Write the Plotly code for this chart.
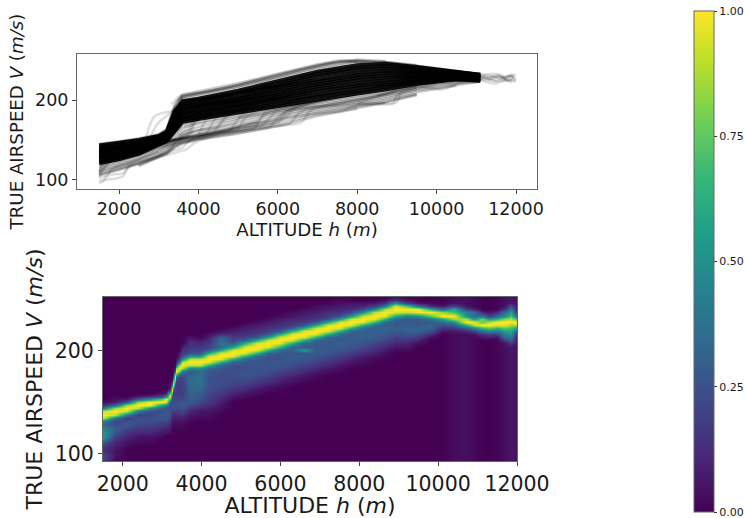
import plotly.graph_objects as go

W, H = 746, 518
PAGE = 0
FW, FH = W - PAGE, H - PAGE
FONT = "DejaVu Sans"
TXT = "#1a1a1a"
N = None

# ---------- top panel: speed profiles ----------
CORE_ALT = [1500, 2000, 2500, 3000, 3200, 3400, 3600, 4000, 5000, 6000, 7000, 8000, 8700, 9500, 10500, 11100]
CORE_V = [
    [143, 146, 150, 155, 160, 186, 199, 202, 212, 224, 236, 244, 246, 242, 236, 232],
    [141, 144, 148, 154, 159, 184, 197, 200, 209, 221, 233, 241, 243, 240, 235, 232],
    [139, 142, 147, 153, 158, 181, 194, 198, 207, 218, 230, 238, 240, 238, 234, 231],
    [137, 140, 145, 152, 157, 179, 192, 195, 204, 216, 226, 234, 237, 236, 233, 230],
    [135, 139, 144, 151, 155, 176, 189, 193, 202, 213, 223, 231, 234, 234, 232, 230],
    [133, 137, 142, 150, 154, 174, 187, 191, 199, 210, 220, 228, 231, 232, 231, 229],
    [131, 135, 140, 149, 153, 171, 184, 188, 197, 207, 217, 225, 228, 230, 230, 228],
    [129, 133, 139, 148, 152, 168, 182, 186, 194, 204, 214, 221, 225, 228, 229, 228],
    [127, 131, 137, 147, 151, 166, 179, 183, 192, 202, 211, 218, 222, 226, 228, 227],
    [125, 129, 136, 146, 150, 163, 177, 181, 189, 199, 207, 215, 219, 224, 227, 226],
    [122, 127, 134, 145, 149, 162, 175, 178, 187, 196, 204, 211, 216, 222, 226, 225],
    [120, 125, 132, 143, 148, 160, 172, 176, 184, 193, 201, 208, 213, 220, 226, 224],
]
FRINGE_V = [
    [145, 148, 152, 157, 162, 190, 202, 205, 215, 227, 239, 247, 248, 243, 237, 232],
    [144, 147, 151, 156, 163, 192, 204, 207, 217, 229, 241, 249, 248, 243, 236, 232],
    [N, N, N, 156, 162, 188, 206, 209, 219, 231, 243, 250, 248, 244, N, N],
    [N, N, N, 156, 164, 194, 207, 211, 221, 233, 245, 251, 249, N, N, N],
    [118, 123, 130, 141, 146, 156, 168, 172, 181, 190, 198, 205, 210, 217, 224, 224],
    [116, 121, 128, 139, 144, 152, 165, 170, 179, 188, 196, 203, 208, 216, 222, 224],
    [114, 119, 126, 137, 143, 149, 160, 166, 177, 186, 194, 201, 206, 214, 221, 223],
    [112, 117, 125, 135, 141, 147, 155, 162, 175, 184, 192, 199, 204, 212, 219, 223],
    [110, 116, 123, 133, 139, 146, 152, 158, 172, 182, 190, 197, 202, 210, 218, N],
    [108, 114, 121, 131, 137, 145, 150, 155, 168, 180, 188, 195, 200, 208, N, N],
    [106, 113, 120, 130, 135, 144, 148, 153, 165, 177, 186, 193, 198, 207, N, N],
    [105, 112, 119, 129, 134, 142, 147, 152, 162, 174, 184, 192, 197, 206, N, N],
    [N, N, 118, 128, 133, 141, 146, 151, 160, 170, 182, 190, 196, N, N, N],
    [N, N, 117, 127, 132, 140, 145, 150, 158, 167, 180, 189, N, N, N, N],
]

STRAY_ALT = [
    [3500, 4000, 5000, 6000, 7000, 7500, 8000],
    [3400, 3800, 5000, 6000, 7000, 7700, 8500],
    [3300, 3700, 4500, 5500, 6500, 7500, 8300],
    [3450, 3900, 4800, 5800, 6800, 7600, 8200],
    [1500, 2500, 3000, 3500, 3700, 3900, 4100, 5000, 6000, 7000, 8000, 9000],
    [1500, 2500, 3000, 3500, 4000, 4200, 4400, 4600, 5000, 6000, 7000, 8000, 9000],
    [1500, 2500, 3000, 3500, 4000, 4500, 4800, 5000, 5200, 6000, 7000, 8000, 9000],
    [1500, 2500, 3000, 3500, 4000, 5000, 5400, 5600, 5800, 6500, 7500, 8500, 9500],
    [1500, 2500, 3000, 3500, 4000, 5000, 5800, 6000, 6200, 7000, 8000, 9000, 10000],
    [1500, 2500, 3000, 3500, 4000, 5000, 6000, 6300, 6500, 6700, 7500, 8500, 9500],
    [2000, 3000, 3500, 4000, 5000, 6000, 6600, 6800, 7000, 8000, 9000],
    [3000, 4000, 5000, 6000, 7000, 7600, 7900, 8100, 8500, 8900, 9000, 9500],
    [5000, 6000, 7000, 7500, 8000, 8500, 9000, 9100, 9500],
    [1500, 1700, 1900, 2100, 2250, 2400, 2600, 3000, 3400, 3600, 3800, 4500, 5500],
    [1500, 1800, 2100, 2300, 2500, 3000, 3500, 3700, 3900, 4500],
    [1500, 1600, 1800, 2000, 2200, 2400, 3000],
    [1500, 1550, 1650, 1800],
    [1500, 1550, 1700, 1900],
    [1500, 1600, 1750, 2000],
    [1500, 1650, 1800, 2100],
    [2300, 2600, 2750, 2900, 3050, 3300, 3800, 4500],
    [2400, 2700, 2850, 3000, 3200, 3500, 4000],
    [3000, 3500, 3600, 3750, 3900, 4100, 5000, 6000],
    [3000, 3400, 3600, 3800, 3950, 4300, 5000, 6000],
    [3000, 3500, 4000, 4150, 4300, 4500, 5200, 6200],
    [3500, 4000, 4500, 4700, 4900, 5100, 6000],
    [3500, 4000, 5000, 5500, 5700, 5900, 6800],
    [4000, 5000, 5300, 6000, 6200, 6400, 7200],
    [4500, 5000, 5500, 6000, 6200, 6400, 6600, 7500],
    [3000, 3500, 3700, 3850, 4000, 4200, 5000],
    [3000, 3600, 3800, 3900, 4100, 4600, 5500],
    [3200, 4000, 4400, 4550, 4700, 5000, 6000],
    [3500, 4500, 5000, 5150, 5300, 5500, 6500],
    [4000, 5000, 5600, 5800, 5950, 6200, 7000],
    [4500, 5500, 6000, 6150, 6300, 6500, 7300],
    [8000, 8500, 9000, 9500, 10000, 10200, 10400, 10600, 10800],
    [8500, 9000, 9500, 10000, 10400, 10500, 11000],
    [9500, 10000, 10500, 11000, 11300, 11600, 11850, 12000],
    [9500, 10000, 10500, 11000, 11400, 11700, 11900, 11950],
    [10000, 10500, 11000, 11200, 11500, 11800, 12000],
    [10000, 10500, 11000, 11300, 11600, 11800, 11950],
    [10500, 11000, 11300, 11600, 11900],
    [10500, 11000, 11400, 11700, 12000],
    [10500, 11000, 11300, 11500, 11800, 12000],
    [10500, 11000, 11200, 11500, 11700, 11900],
]
STRAY_V = [
    [205, 209, 219, 232, 244, 250, 248],
    [200, 206, 217, 229, 242, 250, 247],
    [195, 205, 213, 226, 238, 248, 248],
    [203, 208, 216, 228, 241, 249, 247],
    [126, 134, 143, 150, 153, 172, 180, 188, 198, 205, 212, 222],
    [128, 136, 146, 150, 155, 158, 175, 182, 186, 196, 204, 212, 220],
    [124, 132, 141, 147, 153, 159, 162, 176, 184, 194, 203, 211, 219],
    [130, 138, 145, 151, 155, 161, 164, 178, 185, 193, 202, 210, 219],
    [122, 131, 139, 146, 151, 158, 166, 178, 186, 192, 200, 209, 220],
    [127, 136, 144, 150, 154, 160, 168, 170, 182, 188, 196, 205, 216],
    [128, 143, 149, 154, 161, 167, 172, 186, 190, 199, 212],
    [148, 154, 165, 176, 183, 186, 192, 195, 195, 195, 206, 214],
    [178, 186, 192, 193, 195, 196, 197, 210, 216],
    [98, 100, 101, 104, 118, 122, 124, 130, 137, 140, 150, 160, 172],
    [102, 106, 108, 118, 121, 128, 135, 138, 146, 158],
    [95, 98, 112, 118, 120, 124, 135],
    [106, 114, 122, 128],
    [110, 116, 124, 130],
    [103, 112, 122, 130],
    [108, 116, 124, 132],
    [134, 138, 165, 180, 183, 186, 192, 200],
    [136, 138, 160, 172, 180, 190, 198],
    [148, 152, 158, 175, 184, 186, 196, 208],
    [146, 150, 154, 170, 182, 187, 195, 206],
    [146, 152, 158, 172, 181, 186, 194, 204],
    [156, 162, 166, 178, 184, 186, 197],
    [154, 162, 170, 174, 186, 188, 199],
    [158, 167, 170, 175, 186, 190, 201],
    [158, 162, 167, 172, 178, 189, 192, 203],
    [146, 150, 156, 170, 178, 183, 192],
    [145, 152, 156, 170, 178, 184, 195],
    [148, 156, 160, 172, 180, 184, 197],
    [152, 160, 164, 176, 182, 186, 199],
    [156, 165, 168, 178, 186, 190, 199],
    [160, 168, 172, 180, 188, 192, 203],
    [196, 204, 212, 217, 214, 214, 218, 222, 224],
    [206, 212, 218, 222, 222, 226, 228],
    [236, 234, 230, 226, 225, 224, 225, 223],
    [234, 232, 229, 232, 230, 226, 232, 228],
    [230, 228, 224, 230, 224, 231, 226],
    [231, 227, 231, 227, 232, 224, 230],
    [233, 232, 226, 229, 222],
    [226, 225, 230, 229, 232],
    [228, 227, 222, 221, 226, 225],
    [230, 230, 232, 233, 228, 231],
]

# ---------- bottom panel: normalised density, one column per altitude ----------
HEAT_ALT = [1500, 1800, 2100, 2400, 2700, 3000, 3100, 3200, 3240, 3280, 3320, 3360, 3420, 3500, 3700, 3950,
            4200, 4500, 4800, 5100, 5400, 5700, 6000, 6300, 6600, 6900, 7200, 7500, 7800, 8100, 8400, 8650,
            8900, 9200, 9500, 9800, 10100, 10400, 10700, 10900, 11100, 11300, 11500, 11700, 11850, 12000]
HEAT_START = [93, 96, 108, 111, 111, 117, 120, 120, 123, 123, 123, 123, 123, 123, 132, 135,
              135, 141, 153, 156, 159, 162, 165, 168, 171, 174, 177, 180, 183, 186, 189, 192,
              201, 201, 207, 213, 219, 219, 219, 216, 213, 213, 213, 207, 204, 216]
HEAT_FLOOR = [0, 0, 0, 0, 0, 0, 0, 0, 0, 0, 0, 0, 0, 0, 0, 0,
              0, 0, 0, 0, 0, 0, 0, 0, 0, 0, 0, 0, 0, 0, 0, 0,
              0, 0, 0, 0, 0, 3, 4, 2, 0, 0, 1, 4, 6, 4]
HEAT_VALUES = [
    [14, 22, 22, 16, 14, 18, 30, 45, 55, 52, 48, 42, 34, 45, 92, 100, 92, 40, 12, 5],
    [4, 5, 5, 6, 8, 10, 14, 20, 26, 30, 28, 22, 20, 38, 90, 100, 85, 30, 8, 4],
    [3, 5, 8, 10, 14, 18, 24, 28, 24, 16, 40, 92, 100, 85, 28, 6],
    [2, 4, 6, 10, 14, 18, 22, 26, 24, 18, 42, 92, 100, 85, 28, 6],
    [2, 4, 6, 10, 14, 18, 20, 24, 24, 20, 24, 50, 100, 100, 50, 10],
    [3, 6, 9, 13, 18, 22, 26, 28, 24, 28, 55, 100, 75, 18, 4],
    [4, 8, 12, 16, 22, 26, 28, 26, 24, 45, 95, 100, 38, 6],
    [3, 6, 8, 11, 16, 22, 26, 26, 24, 22, 28, 70, 100, 70, 16, 5, 3],
    [1, 2, 3, 5, 8, 12, 18, 24, 26, 24, 22, 26, 75, 100, 75, 22, 6],
    [1, 2, 3, 5, 8, 12, 18, 24, 26, 24, 22, 20, 20, 28, 75, 100, 75, 22, 6],
    [1, 2, 3, 5, 8, 12, 18, 24, 26, 24, 22, 20, 18, 18, 20, 28, 75, 100, 75, 22, 8, 3],
    [1, 2, 3, 5, 8, 12, 18, 24, 26, 24, 22, 20, 18, 18, 18, 18, 20, 30, 78, 100, 78, 26, 10, 5],
    [1, 2, 3, 5, 8, 12, 18, 24, 26, 24, 22, 20, 18, 18, 18, 18, 20, 22, 40, 85, 100, 82, 36, 14, 10, 6],
    [1, 2, 3, 5, 8, 14, 20, 26, 28, 26, 22, 20, 18, 18, 18, 18, 20, 22, 26, 48, 90, 100, 90, 48, 22, 16, 12, 8],
    [2, 4, 6, 10, 16, 24, 28, 30, 30, 30, 32, 34, 34, 36, 34, 30, 28, 50, 92, 100, 92, 52, 24, 20, 16, 14, 10, 5],
    [2, 4, 6, 10, 16, 22, 26, 28, 30, 32, 34, 36, 38, 38, 36, 34, 50, 92, 100, 92, 52, 26, 20, 16, 12, 6],
    [2, 4, 6, 8, 12, 16, 18, 20, 20, 22, 24, 24, 24, 24, 26, 26, 32, 62, 95, 100, 95, 62, 30, 20, 16, 12, 8, 4],
    [2, 4, 6, 8, 11, 14, 18, 20, 22, 24, 24, 24, 24, 26, 28, 32, 62, 96, 100, 95, 60, 34, 38, 36, 30, 12, 4],
    [3, 6, 10, 14, 18, 20, 22, 24, 24, 24, 24, 26, 30, 60, 96, 100, 94, 58, 28, 20, 16, 12, 8, 4],
    [3, 6, 10, 14, 18, 22, 24, 26, 26, 24, 26, 28, 32, 62, 95, 100, 96, 62, 30, 20, 14, 10, 8, 4],
    [3, 5, 9, 13, 17, 21, 24, 26, 26, 26, 26, 28, 34, 64, 96, 100, 95, 60, 28, 18, 14, 10, 7, 3],
    [3, 5, 9, 13, 17, 21, 24, 26, 26, 26, 26, 26, 32, 62, 95, 100, 94, 58, 28, 18, 14, 10, 7, 3],
    [2, 5, 8, 12, 16, 20, 24, 26, 28, 26, 26, 28, 34, 64, 96, 100, 95, 60, 28, 18, 14, 10, 7, 3],
    [2, 5, 8, 12, 16, 20, 24, 26, 28, 28, 26, 28, 32, 62, 95, 100, 96, 62, 30, 18, 14, 10, 6, 3],
    [2, 4, 8, 12, 16, 20, 24, 26, 28, 26, 55, 28, 32, 62, 96, 100, 95, 60, 26, 16, 12, 9, 6, 3],
    [2, 4, 7, 11, 15, 19, 23, 26, 28, 28, 28, 28, 34, 64, 96, 100, 94, 58, 26, 16, 12, 8, 5, 3],
    [2, 4, 7, 11, 15, 19, 23, 26, 28, 28, 28, 28, 32, 62, 95, 100, 95, 60, 26, 16, 12, 8, 5, 2],
    [2, 3, 6, 10, 14, 18, 22, 26, 28, 30, 28, 28, 34, 62, 95, 100, 94, 56, 24, 14, 10, 7, 4, 2],
    [1, 3, 6, 9, 13, 18, 22, 26, 28, 30, 30, 28, 32, 60, 96, 100, 94, 54, 22, 12, 8, 6],
    [1, 3, 5, 8, 12, 17, 22, 26, 28, 30, 30, 30, 34, 62, 96, 100, 92, 50, 20, 10, 6],
    [1, 2, 5, 8, 12, 16, 21, 26, 28, 30, 30, 30, 34, 64, 96, 100, 90, 46, 18, 8],
    [1, 2, 4, 7, 11, 16, 21, 25, 28, 30, 30, 30, 34, 64, 96, 100, 88, 42, 14, 5],
    [3, 6, 11, 16, 20, 24, 28, 30, 28, 28, 32, 60, 96, 100, 96, 52, 14, 5],
    [3, 6, 10, 16, 22, 26, 30, 32, 30, 28, 28, 45, 92, 100, 72, 20, 5],
    [4, 10, 18, 24, 30, 32, 28, 26, 28, 50, 98, 98, 38, 6],
    [4, 14, 24, 32, 32, 28, 36, 72, 100, 62, 14, 3],
    [6, 14, 24, 34, 55, 100, 85, 32, 6],
    [6, 16, 28, 50, 85, 100, 70, 60, 20, 5],
    [10, 30, 60, 100, 90, 50, 45, 18, 5],
    [6, 18, 45, 90, 100, 55, 35, 35, 10],
    [6, 15, 35, 65, 100, 75, 80, 40, 10],
    [8, 20, 45, 75, 100, 90, 55, 18, 5],
    [6, 20, 40, 65, 95, 100, 65, 35, 12],
    [6, 18, 35, 45, 55, 75, 95, 100, 85, 50, 35, 15, 5],
    [5, 15, 30, 40, 50, 60, 70, 85, 100, 90, 70, 55, 40, 25, 8],
    [10, 28, 55, 85, 100, 70, 35, 10],
]
V_BINS = list(range(93, 253, 3))

X_TICKS = [2000, 4000, 6000, 8000, 10000, 12000]
Y_TICKS = [100, 200]
CBAR_TICKS = [0, 0.25, 0.5, 0.75, 1]
X_TITLE = "ALTITUDE <i>h</i> (<i>m</i>)"
Y_TITLE = "TRUE AIRSPEED <i>V</i> (<i>m/s</i>)"

grid = [[HEAT_FLOOR[c] / 100 for c in range(len(HEAT_ALT))] for _ in V_BINS]
for c, (start, values) in enumerate(zip(HEAT_START, HEAT_VALUES)):
    row0 = V_BINS.index(start)
    for k, value in enumerate(values):
        if row0 + k < len(V_BINS):
            grid[row0 + k][c] = max(grid[row0 + k][c], value / 100)


def xdom(left, right):
    return [(left - PAGE) / FW, (right - PAGE) / FW]


def ydom(top, bottom):
    return [1 - (bottom - PAGE) / FH, 1 - (top - PAGE) / FH]


fig = go.Figure()
for vs in FRINGE_V:
    fig.add_trace(go.Scatter(x=CORE_ALT, y=vs, mode="lines", xaxis="x", yaxis="y", hoverinfo="skip",
                             showlegend=False, line=dict(color="rgba(0,0,0,0.2)", width=2.6)))
for alts, vs in zip(STRAY_ALT, STRAY_V):
    fig.add_trace(go.Scatter(x=alts, y=vs, mode="lines", xaxis="x", yaxis="y", hoverinfo="skip",
                             showlegend=False,
                             line=dict(color="rgba(0,0,0,0.13)", width=2.6, shape="spline", smoothing=0.5)))
for vs in CORE_V:
    fig.add_trace(go.Scatter(x=CORE_ALT, y=vs, mode="lines", xaxis="x", yaxis="y", hoverinfo="skip",
                             showlegend=False, line=dict(color="rgba(0,0,0,0.92)", width=3.6)))
fig.add_trace(go.Heatmap(x=HEAT_ALT, y=V_BINS, z=grid, xaxis="x2", yaxis="y2", colorscale="Viridis",
                         zmin=0, zmax=1, zsmooth="best", hoverinfo="skip",
                         colorbar=dict(x=(694 - PAGE) / FW, xanchor="left", xpad=0,
                                       y=1 - (11 - PAGE) / FH, yanchor="top", ypad=0,
                                       len=501 / FH, thickness=20, outlinewidth=1, outlinecolor="#666666",
                                       tickvals=CBAR_TICKS, tickformat=".2f", ticks="outside", ticklen=3,
                                       tickwidth=1, tickcolor="#333333", ticklabeloverflow="allow",
                                       tickfont=dict(family=FONT, size=11, color=TXT))))


def axis(domain, rng, ticks, tick_size, title, title_size, standoff, anchor):
    return dict(domain=domain, range=rng, tickvals=ticks, anchor=anchor, ticks="outside", ticklen=4, tickwidth=1,
                tickformat="d", tickcolor="#444444", showgrid=False, zeroline=False, showline=True,
                linecolor="#666666", linewidth=1, mirror=True, automargin=False,
                tickfont=dict(family=FONT, size=tick_size, color=TXT),
                title=dict(text=title, font=dict(family=FONT, size=title_size, color=TXT), standoff=standoff))


fig.update_layout(
    width=FW, height=FH, autosize=False, paper_bgcolor="white", plot_bgcolor="white",
    margin=dict(l=0, r=0, t=0, b=0, autoexpand=False), showlegend=False,
    xaxis=axis(xdom(77, 537), [942, 12529], X_TICKS, 17.5, X_TITLE, 18.2, 2, "y"),
    yaxis=axis(ydom(54, 189), [88, 258], Y_TICKS, 17.5, Y_TITLE, 18.2, 6, "x"),
    xaxis2=axis(xdom(103, 517), [1500, 12000], X_TICKS, 20.5, X_TITLE, 22, 5, "y2"),
    yaxis2=axis(ydom(297, 461), [93, 252], Y_TICKS, 20.5, Y_TITLE, 22, 6, "x2"),
)
fig.write_html("out.html", config={"displayModeBar": False},
               post_script="document.body.style.margin='0';document.documentElement.style.overflow='hidden';")
